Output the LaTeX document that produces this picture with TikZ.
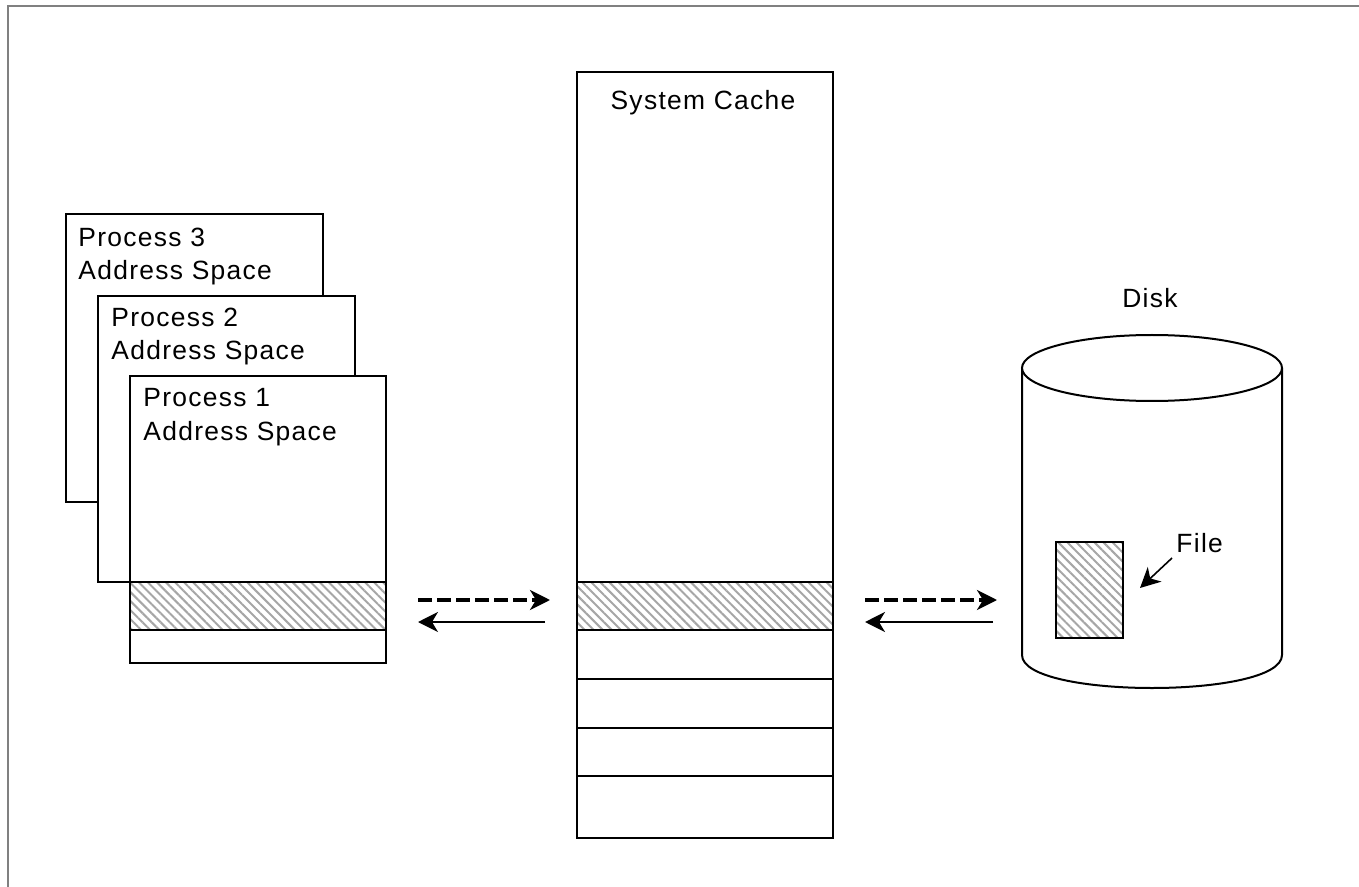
\documentclass[tikz,border=0pt]{standalone}
\usepackage{fontspec}
\setmainfont[LetterSpace=5]{Liberation Sans}
\usetikzlibrary{arrows.meta,patterns.meta}
\tikzset{
  box/.style={draw=black, line width=1pt, fill=white},
  hatch/.style={draw=black, line width=1pt,
    pattern={Lines[angle=-45, distance=3.2pt, line width=1pt]}, pattern color=black!35},
  lbl/.style={font=\fontsize{13.2}{15}\selectfont, inner sep=0pt},
  push/.style={line width=1.6pt, dash pattern=on 7pt off 2.5pt, -{Stealth[length=10pt, width=10pt, inset=3pt]}},
  pull/.style={line width=0.8pt, -{Stealth[length=10pt, width=10pt, inset=3pt]}},
  frame/.style={draw=black!50, line width=1.2pt}
}
\begin{document}
\begin{tikzpicture}[x=0.5pt, y=-0.5pt]
\useasboundingbox (0,0) rectangle (1359,887);
% outer frame, only top and left edges
\draw[frame] (8,887) -- (8,6) -- (1359,6);

% stacked process address spaces
\draw[box] (66,214) rectangle (323,502);
\node[lbl, anchor=base west] (p3a) at (78,247) {Process 3};
\node[lbl, anchor=base west] (p3b) at (78,280) {Address Space};
\draw[box] (98,296) rectangle (355,582);
\node[lbl, anchor=base west] (p2a) at (111,327) {Process 2};
\node[lbl, anchor=base west] (p2b) at (111,360) {Address Space};
\draw[box] (130,376) rectangle (386,663);
\node[lbl, anchor=base west] (p1a) at (143,407) {Process 1};
\node[lbl, anchor=base west] (p1b) at (143,440) {Address Space};
\draw[hatch] (130,582) rectangle (386,630);

% system cache column
\draw[box] (577,72) rectangle (833,838);
\node[lbl, anchor=base] (sc) at (703,110) {System Cache};
\draw[hatch] (577,582) rectangle (833,630);
\foreach \yy in {679,728,776} \draw[line width=1pt] (577,\yy) -- (833,\yy);

% disk cylinder
\draw[line width=1pt, fill=white] (1022,368) -- (1022,655)
  .. controls (1022,699) and (1282,699) .. (1282,655) -- (1282,368);
\draw[line width=1pt, fill=white] (1152,368) ellipse [x radius=130, y radius=33];
\node[lbl, anchor=base] (disk) at (1150,308) {Disk};
\draw[hatch] (1056,542) rectangle (1123,638);
\node[lbl, anchor=base west] (file) at (1176,552) {File};

% transfer arrows
\coordinate (a1s) at (418,600); \coordinate (a1e) at (550,600);
\coordinate (a2s) at (545,622); \coordinate (a2e) at (418,622);
\coordinate (b1s) at (865,600); \coordinate (b1e) at (997,600);
\coordinate (b2s) at (993,622); \coordinate (b2e) at (865,622);
\draw[push] (a1s) -- (a1e);
\draw[pull] (a2s) -- (a2e);
\draw[push] (b1s) -- (b1e);
\draw[pull] (b2s) -- (b2e);

% pointer to the file
\coordinate (fs) at (1172,558); \coordinate (fe) at (1140,588);
\draw[pull] (fs) -- (fe);
\end{tikzpicture}
\end{document}
